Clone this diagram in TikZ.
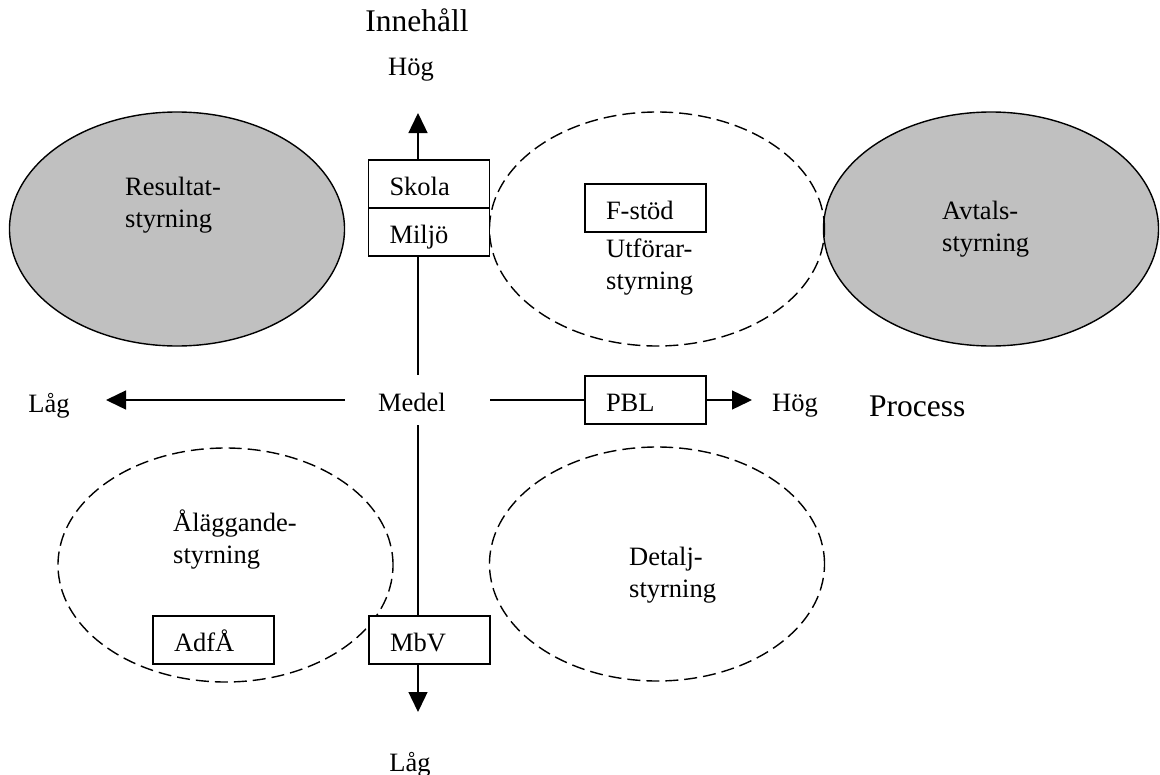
\documentclass[tikz,border=0pt]{standalone}
\usepackage{fontspec}
\setmainfont{Liberation Serif}
\usetikzlibrary{shapes.geometric,arrows.meta}
\begin{document}
\begin{tikzpicture}[x=1bp,y=-1bp,
  every node/.style={font=\fontsize{26.5bp}{32bp}\selectfont, inner sep=0pt},
  bigtxt/.style={font=\fontsize{31.5bp}{38bp}\selectfont},
  oval/.style={ellipse, draw, line width=1.4bp, minimum width=335bp, minimum height=234bp, inner sep=0pt},
  greyoval/.style={oval, fill=ovalgrey},
  dashoval/.style={oval, dash pattern=on 13bp off 6bp},
  labelbox/.style={draw, fill=white, line width=1.4bp, text width=79bp, inner xsep=21bp, inner ysep=0pt,
    minimum height=48bp, align=left, text height=23bp, text depth=0bp},
  txt/.style={anchor=base west, align=left},
  axis/.style={line width=1.4bp},
  tip/.style={-{Triangle[length=20bp,width=19bp]}}
]
\definecolor{ovalgrey}{RGB}{192,192,192}
\useasboundingbox (0,0) rectangle (1160,775);

% ellipses
\node[greyoval] (res) at (177,229) {};
\node[greyoval] (avt) at (991,229) {};
\node[dashoval] (utf) at (657,229) {};
\node[dashoval] (det) at (657,564) {};
\node[dashoval] (ala) at (225.5,565) {};

% ellipse texts (anchor = baseline of the last line)
\node[txt] (restxt) at (125,227) {Resultat-\\styrning};
\node[txt] (avttxt) at (942,251) {Avtals-\\styrning};
\node[txt] (utftxt) at (606,289) {Utförar-\\styrning};
\node[txt] (dettxt) at (629,597) {Detalj-\\styrning};
\node[txt] (alatxt) at (173,563) {Åläggande-\\styrning};

% axis labels
\node[bigtxt, anchor=base] (inneh) at (417,32) {Innehåll};
\node[anchor=base] (hogtop) at (411,76) {Hög};
\node[anchor=base] (medel) at (412,411) {Medel};
\node[anchor=base] (lagleft) at (49,412) {Låg};
\node[anchor=base] (hogright) at (795,411) {Hög};
\node[bigtxt, anchor=base west] (proc) at (869,416) {Process};
\node[anchor=base] (lagbot) at (410,771) {Låg};

% coordinates for axis ends
\coordinate (topend) at (418,113);
\coordinate (botend) at (418,712);
\coordinate (leftend) at (106,400);
\coordinate (rightend) at (752,400);
\coordinate (vup) at (418,375);
\coordinate (vdown) at (418,425);
\coordinate (hleft) at (345,400);
\coordinate (hright) at (490,400);

% boxes
\node[labelbox] (skola) at (429,184) {Skola};
\node[labelbox] (miljo) at (429,232) {Miljö};
\node[labelbox] (fstod) at (645.5,208) {F-stöd};
\node[labelbox] (pbl) at (645.5,400) {PBL};
\node[labelbox] (mbv) at (429.5,640) {MbV};
\node[labelbox] (adfa) at (213.5,640) {AdfÅ};

% axes
\draw[axis, tip] (skola.north -| topend) -- (topend);
\draw[axis] (miljo.south -| vup) -- (vup);
\draw[axis] (vdown) -- (mbv.north -| vdown);
\draw[axis, tip] (mbv.south -| botend) -- (botend);
\draw[axis, tip] (hleft) -- (leftend);
\draw[axis] (hright) -- (pbl.west);
\draw[axis, tip] (pbl.east) -- (rightend);
\end{tikzpicture}
\end{document}
